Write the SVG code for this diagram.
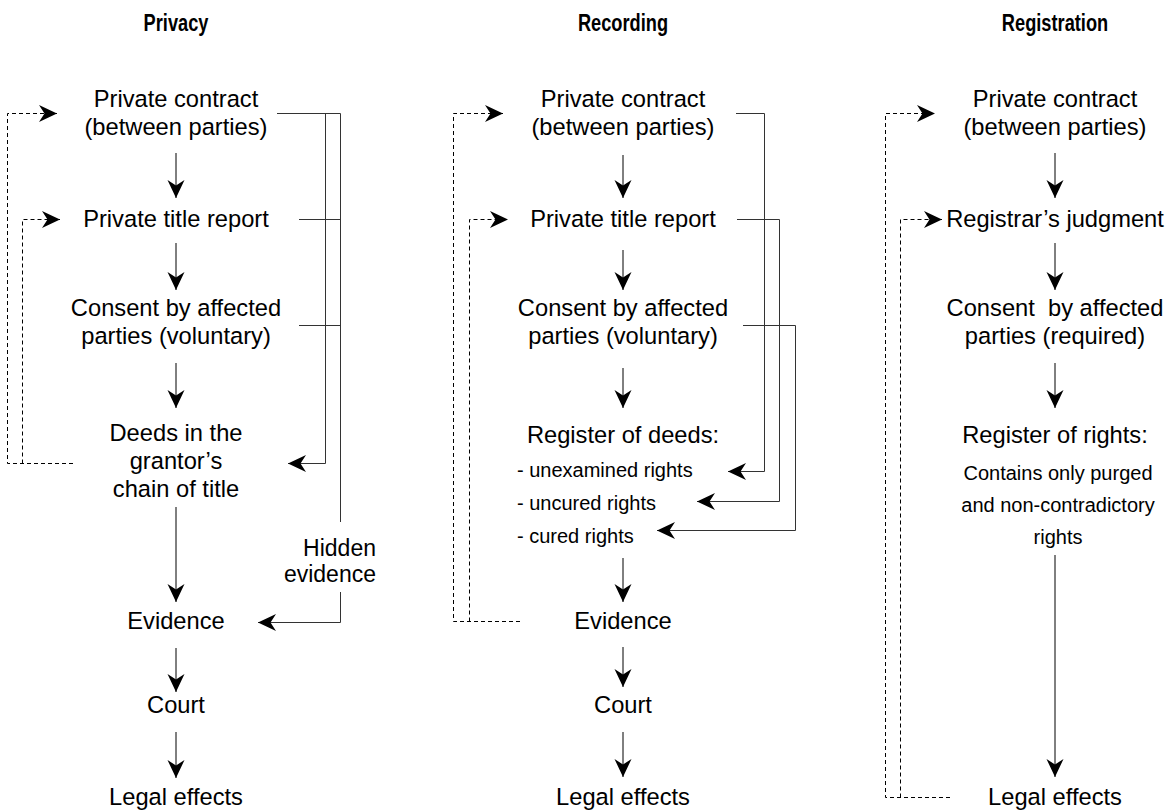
<svg xmlns="http://www.w3.org/2000/svg" width="1168" height="810" viewBox="0 0 1168 810">
<style>
text{font-family:"Liberation Sans",Arial,sans-serif;fill:#000;text-anchor:middle}
.t{font-size:24px;font-weight:bold}
.n{font-size:23.7px}
.s{font-size:20px}
.hid{font-size:23px;text-anchor:end}
.ln{fill:none;stroke:#000;stroke-width:1}
.rc{fill:none;stroke:#333;stroke-width:1}
.ds{fill:none;stroke:#000;stroke-width:1;stroke-dasharray:4,3}
</style>
<defs>
<marker id="ah" markerUnits="userSpaceOnUse" markerWidth="19" markerHeight="18" refX="18" refY="8.5" orient="auto" viewBox="0 0 19 18">
<path d="M0,0 L18,8.5 L0,17 L5.5,8.5 Z" fill="#000"/>
</marker>
</defs>
<rect width="1168" height="810" fill="#fff"/>

<g id="titles">
<text class="t" transform="translate(176,31) scale(0.76,1)">Privacy</text>
<text class="t" transform="translate(623,31) scale(0.76,1)">Recording</text>
<text class="t" transform="translate(1055,31) scale(0.76,1)">Registration</text>
</g>

<g id="privacy-contract"><text class="n" x="176" y="107">Private contract</text><text class="n" x="176" y="135">(between parties)</text></g>
<g id="privacy-title-report"><text class="n" x="176" y="227">Private title report</text></g>
<g id="privacy-consent"><text class="n" x="176" y="316">Consent by affected</text><text class="n" x="176" y="344">parties (voluntary)</text></g>
<g id="privacy-deeds"><text class="n" x="176" y="441">Deeds in the</text><text class="n" x="176" y="469">grantor’s</text><text class="n" x="176" y="497">chain of title</text></g>
<g id="privacy-evidence"><text class="n" x="176" y="629">Evidence</text></g>
<g id="privacy-court"><text class="n" x="176" y="713">Court</text></g>
<g id="privacy-legal"><text class="n" x="176" y="805">Legal effects</text></g>

<g id="recording-contract"><text class="n" x="623" y="107">Private contract</text><text class="n" x="623" y="135">(between parties)</text></g>
<g id="recording-title-report"><text class="n" x="623" y="227">Private title report</text></g>
<g id="recording-consent"><text class="n" x="623" y="316">Consent by affected</text><text class="n" x="623" y="344">parties (voluntary)</text></g>
<g id="recording-register"><text class="n" x="623" y="443">Register of deeds:</text>
<text class="s" x="517" y="477" style="text-anchor:start">- unexamined rights</text>
<text class="s" x="517" y="510" style="text-anchor:start">- uncured rights</text>
<text class="s" x="517" y="543" style="text-anchor:start">- cured rights</text></g>
<g id="recording-evidence"><text class="n" x="623" y="629">Evidence</text></g>
<g id="recording-court"><text class="n" x="623" y="713">Court</text></g>
<g id="recording-legal"><text class="n" x="623" y="805">Legal effects</text></g>

<g id="registration-contract"><text class="n" x="1055" y="107">Private contract</text><text class="n" x="1055" y="135">(between parties)</text></g>
<g id="registration-judgment"><text class="n" x="1055" y="227">Registrar’s judgment</text></g>
<g id="registration-consent"><text class="n" x="1055" y="316" xml:space="preserve">Consent  by affected</text><text class="n" x="1055" y="344">parties (required)</text></g>
<g id="registration-register"><text class="n" x="1055" y="443">Register of rights:</text>
<text class="s" x="1058" y="480">Contains only purged</text>
<text class="s" x="1058" y="512">and non-contradictory</text>
<text class="s" x="1058" y="544">rights</text></g>
<g id="registration-legal"><text class="n" x="1055" y="805">Legal effects</text></g>

<g id="hidden-evidence-label"><text class="hid" x="376" y="556">Hidden</text><text class="hid" x="376" y="582">evidence</text></g>

<g id="connectors">
<!-- Privacy main flow -->
<line class="ln" x1="176" y1="153" x2="176" y2="198" marker-end="url(#ah)"/>
<line class="ln" x1="176" y1="243" x2="176" y2="290" marker-end="url(#ah)"/>
<line class="ln" x1="176" y1="363" x2="176" y2="408" marker-end="url(#ah)"/>
<line class="ln" x1="176" y1="507" x2="176" y2="602" marker-end="url(#ah)"/>
<line class="ln" x1="176" y1="648" x2="176" y2="692" marker-end="url(#ah)"/>
<line class="ln" x1="176" y1="732" x2="176" y2="778" marker-end="url(#ah)"/>
<!-- Privacy right side -->
<polyline class="rc" points="277,113.5 340.5,113.5 340.5,522"/>
<line class="rc" x1="299" y1="219.5" x2="340.5" y2="219.5"/>
<line class="rc" x1="299" y1="325.5" x2="340.5" y2="325.5"/>
<polyline class="rc" points="325.5,113.5 325.5,463.5 288,463.5" marker-end="url(#ah)"/>
<polyline class="rc" points="340.5,592 340.5,622.5 258,622.5" marker-end="url(#ah)"/>
<!-- Privacy left dashed -->
<polyline class="ds" points="73,463.5 7.5,463.5 7.5,113.5 57,113.5" marker-end="url(#ah)"/>
<polyline class="ds" points="22.5,463.5 22.5,219.5 60,219.5" marker-end="url(#ah)"/>

<!-- Recording main flow -->
<line class="ln" x1="623" y1="155" x2="623" y2="198" marker-end="url(#ah)"/>
<line class="ln" x1="623" y1="250" x2="623" y2="290" marker-end="url(#ah)"/>
<line class="ln" x1="623" y1="368" x2="623" y2="408" marker-end="url(#ah)"/>
<line class="ln" x1="623" y1="558" x2="623" y2="602" marker-end="url(#ah)"/>
<line class="ln" x1="623" y1="647" x2="623" y2="687" marker-end="url(#ah)"/>
<line class="ln" x1="623" y1="732" x2="623" y2="777" marker-end="url(#ah)"/>
<!-- Recording right side -->
<polyline class="rc" points="736,113.5 764.5,113.5 764.5,471.5 728,471.5" marker-end="url(#ah)"/>
<polyline class="rc" points="737,219.5 779.5,219.5 779.5,501.5 697,501.5" marker-end="url(#ah)"/>
<polyline class="rc" points="743,325.5 795.5,325.5 795.5,530.5 657,530.5" marker-end="url(#ah)"/>
<!-- Recording left dashed -->
<polyline class="ds" points="520,621.5 453.5,621.5 453.5,113.5 503,113.5" marker-end="url(#ah)"/>
<polyline class="ds" points="469.5,621.5 469.5,219.5 508,219.5" marker-end="url(#ah)"/>

<!-- Registration main flow -->
<line class="ln" x1="1055" y1="153" x2="1055" y2="198" marker-end="url(#ah)"/>
<line class="ln" x1="1055" y1="243" x2="1055" y2="290" marker-end="url(#ah)"/>
<line class="ln" x1="1055" y1="363" x2="1055" y2="408" marker-end="url(#ah)"/>
<line class="ln" x1="1055" y1="555" x2="1055" y2="777" marker-end="url(#ah)"/>
<!-- Registration left dashed -->
<polyline class="ds" points="950,797.5 885.5,797.5 885.5,113.5 935,113.5" marker-end="url(#ah)"/>
<polyline class="ds" points="900.5,797.5 900.5,219.5 942,219.5" marker-end="url(#ah)"/>
</g>
</svg>
